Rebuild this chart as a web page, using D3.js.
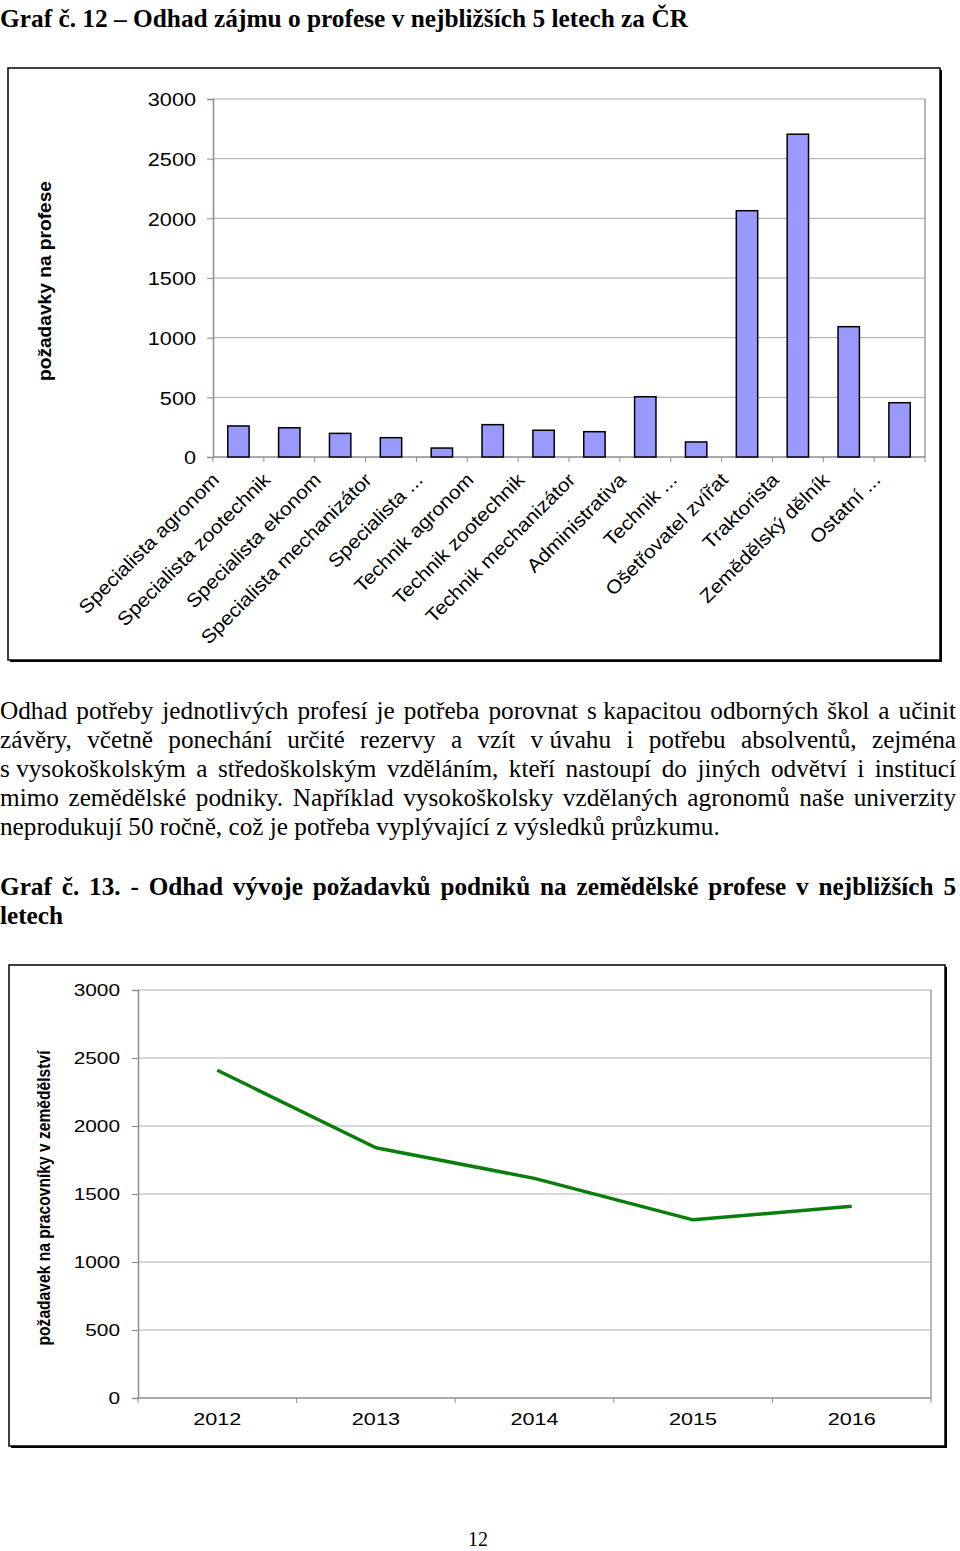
<!DOCTYPE html>
<html><head><meta charset="utf-8">
<script src="https://cdn.jsdelivr.net/npm/d3@7"></script>
<style>
html,body{margin:0;padding:0;background:#fff;}
svg{display:block;}
</style></head>
<body>
<svg id="page" width="960" height="1551"></svg>
<script>
// ---------- DATA ----------
const categories = ["Specialista agronom","Specialista zootechnik","Specialista ekonom","Specialista mechanizátor","Specialista ...","Technik agronom","Technik zootechnik","Technik mechanizátor","Administrativa","Technik ...","Ošetřovatel zvířat","Traktorista","Zemědělský dělník","Ostatní  ..."];
const requests = [260,245,198,162,75,271,224,212,505,126,2064,2705,1092,455];
const yTicks = [0,500,1000,1500,2000,2500,3000];
const years = ["2012","2013","2014","2015","2016"];
const demand = [2410,1840,1615,1310,1410];
const title1 = "Graf č. 12 – Odhad zájmu o profese v nejbližších 5 letech za ČR";
const yTitle1 = "požadavky na profese";
const yTitle2 = "požadavek na pracovníky v zemědělství";
const paragraph = [
 "Odhad potřeby jednotlivých profesí je potřeba porovnat s\u00A0kapacitou odborných škol a učinit",
 "závěry, včetně ponechání určité rezervy a vzít v\u00A0úvahu i potřebu absolventů, zejména",
 "s\u00A0vysokoškolským a středoškolským vzděláním, kteří nastoupí do jiných odvětví i institucí",
 "mimo zemědělské podniky. Například vysokoškolsky vzdělaných agronomů naše univerzity",
 "neprodukují 50 ročně, což je potřeba vyplývající z výsledků průzkumu."
];
const title2 = ["Graf č. 13. - Odhad vývoje požadavků podniků na zemědělské profese v nejbližších 5","letech"];
const pageNo = "12";

// ---------- HELPERS ----------
const svg = d3.select("#page");
const SANS = "Arial, 'Liberation Sans', sans-serif";
const SERIF = "'Times New Roman', 'Liberation Serif', serif";
function stretch(sel, k){ sel.each(function(){ const L=this.getComputedTextLength(); this.setAttribute("textLength", L*k); this.setAttribute("lengthAdjust","spacingAndGlyphs"); }); }
function fitTo(sel, len){ sel.each(function(){ this.setAttribute("textLength", len); this.setAttribute("lengthAdjust","spacingAndGlyphs"); }); }
function justifyLine(g, text, x0, x1, y, fs, weight, justify){
  const words = text.split(" ");
  const t = g.append("text").attr("y", y).attr("font-family", SERIF).attr("font-size", fs).attr("font-weight", weight).attr("fill","#000");
  const spans = words.map(w => t.append("tspan").text(w));
  const widths = spans.map(s => s.node().getComputedTextLength());
  const tmp = g.append("text").attr("font-family", SERIF).attr("font-size", fs).attr("font-weight", weight).text("a a");
  const tmp2 = g.append("text").attr("font-family", SERIF).attr("font-size", fs).attr("font-weight", weight).text("aa");
  const sp = tmp.node().getComputedTextLength() - tmp2.node().getComputedTextLength();
  tmp.remove(); tmp2.remove();
  const total = d3.sum(widths);
  const gap = justify && words.length>1 ? (x1 - x0 - total)/(words.length-1) : sp;
  let x = x0;
  spans.forEach((s,i)=>{ s.attr("x", x); x += widths[i] + gap; });
  return t;
}
function frame(x,y,w,h){
  svg.append("rect").attr("x",x+2).attr("y",y+2).attr("width",w).attr("height",h).attr("fill","#000");
  svg.append("rect").attr("x",x).attr("y",y).attr("width",w).attr("height",h).attr("fill","#fff").attr("stroke","#000").attr("stroke-width",1.5);
}

// ---------- TITLE ----------
const tt = svg.append("text").attr("x",0).attr("y",27).attr("font-family",SERIF).attr("font-weight","bold").attr("font-size",26).text(title1);
fitTo(tt, 688);

// ---------- CHART 1 ----------
frame(8,68,932,592);
const m1 = {l:213, r:925, t:99, b:457};
const x1 = d3.scaleBand().domain(categories).range([m1.l, m1.r]).paddingInner(0.58).paddingOuter(0.29);
const xb1 = d3.scaleBand().domain(categories).range([m1.l, m1.r]);
const y1 = d3.scaleLinear().domain([0,3000]).range([m1.b, m1.t]);
const c1 = svg.append("g");
// grid
c1.append("g").selectAll("line").data(yTicks.filter(d=>d>0)).join("line")
  .attr("x1",m1.l).attr("x2",m1.r).attr("y1",d=>y1(d)).attr("y2",d=>y1(d)).attr("stroke","#a6a6a6").attr("stroke-width",1);
c1.append("line").attr("x1",m1.r).attr("x2",m1.r).attr("y1",m1.t).attr("y2",m1.b).attr("stroke","#a0a0a0").attr("stroke-width",1.5);
// y axis
const ya1 = c1.append("g").attr("transform",`translate(${m1.l},0)`).call(d3.axisLeft(y1).tickValues(yTicks).tickSize(6).tickPadding(11).tickFormat(d3.format("d")));
ya1.select(".domain").attr("stroke","#8c8c8c").attr("stroke-width",1.5);
ya1.selectAll(".tick line").attr("stroke","#8c8c8c");
ya1.selectAll("text").attr("font-family",SANS).attr("font-size",19).attr("fill","#000").attr("dy","0.36em");
stretch(ya1.selectAll("text"), 1.14);
// x axis
const xa1 = c1.append("g").attr("transform",`translate(0,${m1.b})`);
xa1.append("line").attr("x1",m1.l).attr("x2",m1.r).attr("stroke","#8c8c8c").attr("stroke-width",1.5);
xa1.selectAll("line.tk").data(categories.concat(["__end"])).join("line").attr("class","tk")
  .attr("x1",(d,i)=>m1.l + i*xb1.step()).attr("x2",(d,i)=>m1.l + i*xb1.step()).attr("y1",0).attr("y2",5).attr("stroke","#8c8c8c");
// bars
c1.append("g").selectAll("rect").data(requests).join("rect")
  .attr("x",(d,i)=>x1(categories[i])).attr("width",x1.bandwidth())
  .attr("y",d=>y1(d)).attr("height",d=>y1(0)-y1(d))
  .attr("fill","#9999ff").attr("stroke","#000").attr("stroke-width",1.5);
// category labels
const cl = c1.append("g").selectAll("text").data(categories).join("text")
  .attr("transform",d=>`translate(${xb1(d)+xb1.bandwidth()/2-18},${m1.b+24}) rotate(-45)`)
  .attr("text-anchor","end").attr("font-family",SANS).attr("font-size",19).attr("fill","#000").text(d=>d);
stretch(cl, 1.1);
// y title
const yt1 = svg.append("text").attr("transform","translate(51,281) rotate(-90)").attr("text-anchor","middle")
  .attr("font-family",SANS).attr("font-weight","bold").attr("font-size",19).text(yTitle1);
fitTo(yt1, 200);

// ---------- PARAGRAPH ----------
const pg = svg.append("g");
const probe = pg.append("text").attr("font-family",SERIF).attr("font-size",21).text(paragraph[4]);
const pfs = 21*720/probe.node().getComputedTextLength();
probe.remove();
paragraph.forEach((ln,i)=>{ justifyLine(pg, ln, 0, 956, 719 + i*29, pfs, "normal", i<4); });
title2.forEach((ln,i)=>{ justifyLine(pg, ln, 0, 956, 895 + i*29, pfs, "bold", i==0); });

// ---------- CHART 2 ----------
frame(9,965,936,481);
const m2 = {l:138, r:931, t:990, b:1398};
const x2 = d3.scaleBand().domain(years).range([m2.l, m2.r]);
const y2 = d3.scaleLinear().domain([0,3000]).range([m2.b, m2.t]);
const c2 = svg.append("g");
c2.append("g").selectAll("line").data(yTicks.filter(d=>d>0)).join("line")
  .attr("x1",m2.l).attr("x2",m2.r).attr("y1",d=>y2(d)).attr("y2",d=>y2(d)).attr("stroke","#b3b3b3").attr("stroke-width",1);
c2.append("line").attr("x1",m2.r).attr("x2",m2.r).attr("y1",m2.t).attr("y2",m2.b).attr("stroke","#a0a0a0").attr("stroke-width",1.5);
const ya2 = c2.append("g").attr("transform",`translate(${m2.l},0)`).call(d3.axisLeft(y2).tickValues(yTicks).tickSize(6).tickPadding(12).tickFormat(d3.format("d")));
ya2.select(".domain").attr("stroke","#8c8c8c").attr("stroke-width",1.5);
ya2.selectAll(".tick line").attr("stroke","#8c8c8c");
ya2.selectAll("text").attr("font-family",SANS).attr("font-size",16).attr("fill","#000").attr("dy","0.36em");
stretch(ya2.selectAll("text"), 1.3);
const xa2 = c2.append("g").attr("transform",`translate(0,${m2.b})`);
xa2.append("line").attr("x1",m2.l).attr("x2",m2.r).attr("stroke","#8c8c8c").attr("stroke-width",1.5);
xa2.selectAll("line.tk").data(years.concat(["__end"])).join("line").attr("class","tk")
  .attr("x1",(d,i)=>m2.l + i*x2.step()).attr("x2",(d,i)=>m2.l + i*x2.step()).attr("y1",0).attr("y2",5).attr("stroke","#8c8c8c");
const yl = xa2.selectAll("text").data(years).join("text")
  .attr("x",d=>x2(d)+x2.bandwidth()/2).attr("y",27).attr("text-anchor","middle")
  .attr("font-family",SANS).attr("font-size",16).attr("fill","#000").text(d=>d);
stretch(yl, 1.35);
const line = d3.line().x((d,i)=>x2(years[i])+x2.bandwidth()/2).y(d=>y2(d));
c2.append("path").datum(demand).attr("d",line).attr("fill","none").attr("stroke","#0a7d0a").attr("stroke-width",3.5).attr("stroke-linejoin","round");
const yt2 = svg.append("text").attr("transform","translate(50,1198) rotate(-90)").attr("text-anchor","middle")
  .attr("font-family",SANS).attr("font-weight","bold").attr("font-size",18).text(yTitle2);
fitTo(yt2, 295);

// ---------- PAGE NUMBER ----------
svg.append("text").attr("x",478).attr("y",1546).attr("text-anchor","middle").attr("font-family",SERIF).attr("font-size",20).text(pageNo);
</script>
</body></html>
